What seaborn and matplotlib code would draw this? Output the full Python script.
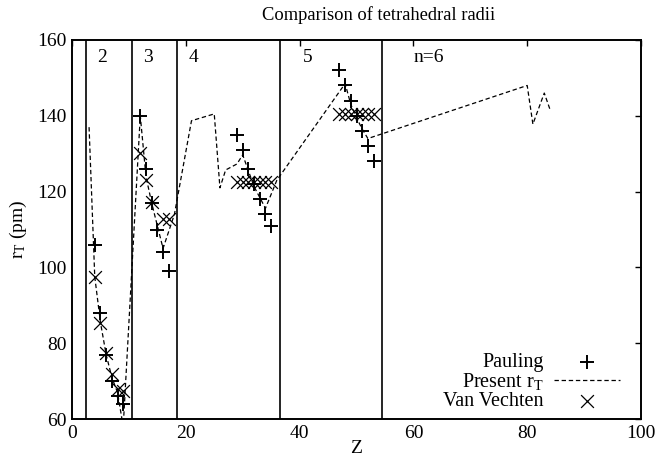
import matplotlib
matplotlib.use('Agg')
import matplotlib.pyplot as plt
import seaborn as sns
import pandas as pd

# ---- data ----
pauling_z = [4, 5, 6, 7, 8, 9,
             12, 13, 14, 15, 16, 17,
             29, 30, 31, 32, 33, 34, 35,
             47, 48, 49, 50, 51, 52, 53]
pauling_r = [106, 88, 77, 70, 66, 64,
             140, 126, 117, 110, 104, 99,
             135, 131, 126, 122, 118, 114, 111,
             152, 148, 144, 140, 136, 132, 128]

vechten_z = [4, 5, 6, 7, 8, 9,
             12, 13, 14, 16, 17,
             29, 30, 31, 32, 33, 34, 35,
             47, 48, 49, 50, 51, 52, 53]
vechten_r = [97.5, 85.3, 77.3, 71.9, 67.8, 67.5,
             130.1, 123.0, 117.3, 112.7, 112.7,
             122.5, 122.5, 122.5, 122.5, 122.5, 122.5, 122.5,
             140.5, 140.5, 140.5, 140.5, 140.5, 140.5, 140.5]

present_z = [3, 4, 5, 6, 7, 8, 9, 12, 13, 14, 15, 16, 18, 21, 25, 26, 27, 29, 30,
             32, 34, 36, 48, 49, 50, 51, 52, 80, 81, 83, 84]
present_r = [137, 97.5, 85.5, 77, 71, 67, 58, 140, 124, 117, 111, 105, 114, 138.7,
             140.5, 121, 125.7, 127.3, 129.7, 121.3, 115.6, 123, 148.5, 143, 139.5,
             136.5, 134, 148, 137.8, 146, 141.7]

period_bounds = [2.5, 10.5, 18.5, 36.5, 54.5]
period_labels = ['2', '3', '4', '5', 'n=6']
period_label_z = [4.5, 12.5, 20.5, 40.5, 60.0]

x_ticks = [0, 20, 40, 60, 80, 100]
y_ticks = [60, 80, 100, 120, 140, 160]

# ---- style ----
sns.set_theme(style='white')
plt.rcParams['font.family'] = ['Liberation Serif', 'DejaVu Serif']
plt.rcParams['mathtext.fontset'] = 'custom'
plt.rcParams['mathtext.rm'] = 'Liberation Serif'
plt.rcParams['mathtext.it'] = 'Liberation Serif:italic'
plt.rcParams['text.color'] = 'black'
plt.rcParams['axes.labelcolor'] = 'black'
plt.rcParams['xtick.color'] = 'black'
plt.rcParams['ytick.color'] = 'black'

fig = plt.figure(figsize=(6.55, 4.63), dpi=100)
ax = fig.add_axes([72/655, 1-419/463, 569/655, 379/463])

present_df = pd.DataFrame({'Z': present_z, 'r': present_r})
pauling_df = pd.DataFrame({'Z': pauling_z, 'r': pauling_r})
vechten_df = pd.DataFrame({'Z': vechten_z, 'r': vechten_r})

sns.lineplot(data=present_df, x='Z', y='r', ax=ax, color='black', lw=0.9,
             linestyle=(0, (3.5, 2.2)), sort=False, estimator=None,
             label='Present r$_\\mathrm{T}$')
sns.scatterplot(data=pauling_df, x='Z', y='r', ax=ax, marker='+', s=90,
                color='black', linewidth=1.4, label='Pauling')
sns.scatterplot(data=vechten_df, x='Z', y='r', ax=ax, marker='x', s=85,
                color='black', linewidth=0.9, label='Van Vechten')

for b in period_bounds:
    ax.axvline(b, color='black', lw=1.2)
for lab, z in zip(period_labels, period_label_z):
    ax.text(z, 155.5, lab, fontsize=14, ha='left', va='center')

ax.set_xlim(0, 100)
ax.set_ylim(60, 160)
ax.set_xticks(x_ticks)
ax.set_yticks(y_ticks)
ax.tick_params(direction='in', length=4.5, width=1.0, top=True, right=True,
               labelsize=14, pad=4)
for s in ax.spines.values():
    s.set_linewidth(1.4)
    s.set_color('black')

ax.set_xlabel('Z', fontsize=14, labelpad=-1)
ax.set_ylabel('r$_\\mathrm{T}$ (pm)', fontsize=14, labelpad=6)
fig.text(379/655, 1-15/463, 'Comparison of tetrahedral radii', fontsize=13.3,
         ha='center', va='center')

handles, labels = ax.get_legend_handles_labels()
if ax.get_legend() is not None:
    ax.get_legend().remove()
hmap = dict(zip(labels, handles))
entries = [('Pauling', 0.1485), ('Present r$_\\mathrm{T}$', 0.0984),
           ('Van Vechten', 0.0456)]
for lab, yy in entries:
    lg = matplotlib.legend.Legend(ax, [hmap[lab]], [lab], loc='center right',
                                  bbox_to_anchor=(0.963, yy), frameon=False,
                                  markerfirst=False, fontsize=14.5,
                                  handlelength=3.25, handletextpad=0.55,
                                  borderpad=0, borderaxespad=0, scatterpoints=1)
    ax.add_artist(lg)

fig.savefig('out.png', dpi=100)
